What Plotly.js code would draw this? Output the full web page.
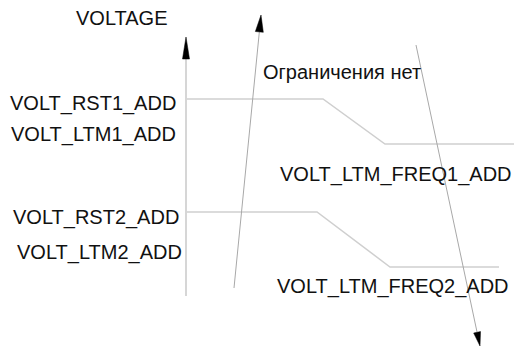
<!DOCTYPE html>
<html>
<head>
<meta charset="utf-8">
<script src="https://cdn.plot.ly/plotly-3.0.1.min.js"></script>
<style>
  html, body { margin: 0; padding: 0; background: #fff; }
  #chart { width: 514px; height: 347px; }
</style>
</head>
<body>
<div id="chart"></div>
<script>
// Schematic drawn in a pixel-like coordinate frame (x to the right, y downward)
const axisX = [186, 186];
const axisY = [296, 37];

const level1X = [186, 323, 385, 514];
const level1Y = [99, 99, 144, 144];

const level2X = [186, 317, 390, 499];
const level2Y = [212, 212, 267, 267];

const arrowUpX = [234, 261];
const arrowUpY = [288, 15];

const arrowDownX = [416, 480];
const arrowDownY = [45, 346];

const labelText = ['VOLTAGE', 'VOLT_RST1_ADD', 'VOLT_LTM1_ADD', 'VOLT_RST2_ADD', 'VOLT_LTM2_ADD',
                   'VOLT_LTM_FREQ1_ADD', 'VOLT_LTM_FREQ2_ADD', 'Ограничения нет'];
const labelX = [122, 178, 178, 181, 184, 514, 511, 261];
const labelY = [18, 103, 134, 217, 252, 174, 286, 72];
const labelAnchor = ['center', 'right', 'right', 'right', 'right', 'right', 'right', 'left'];

// build an arrow: gray shaft up to the head base, black filled head
function arrow(xs, ys, headLen, headHalf, shaftColor, shaftWidth) {
  let dx = xs[1] - xs[0], dy = ys[1] - ys[0];
  let len = Math.sqrt(dx * dx + dy * dy);
  let ux = dx / len, uy = dy / len;
  let bx = xs[1] - ux * headLen, by = ys[1] - uy * headLen;
  let px = -uy, py = ux;
  let shaft = {
    x: [xs[0], bx], y: [ys[0], by], mode: 'lines',
    line: { color: shaftColor, width: shaftWidth }, hoverinfo: 'skip'
  };
  let head = {
    x: [xs[1], bx + px * headHalf, bx - px * headHalf, xs[1]],
    y: [ys[1], by + py * headHalf, by - py * headHalf, ys[1]],
    mode: 'lines', fill: 'toself', fillcolor: '#000',
    line: { color: '#000', width: 0.5 }, hoverinfo: 'skip'
  };
  return [shaft, head];
}

let traces = [
  { x: level1X, y: level1Y, mode: 'lines', line: { color: '#cfcfcf', width: 1.5 }, hoverinfo: 'skip' },
  { x: level2X, y: level2Y, mode: 'lines', line: { color: '#cfcfcf', width: 1.5 }, hoverinfo: 'skip' }
];
traces = traces.concat(arrow(axisX, axisY, 22, 3.5, '#d6d6d6', 2));
traces = traces.concat(arrow(arrowUpX, arrowUpY, 17, 4, '#a8a8a8', 1));
traces = traces.concat(arrow(arrowDownX, arrowDownY, 14, 3.5, '#a8a8a8', 1));

let annotations = labelText.map((t, i) => ({
  x: labelX[i], y: labelY[i], xref: 'x', yref: 'y',
  text: t, showarrow: false, xanchor: labelAnchor[i], yanchor: 'middle',
  font: { family: 'Liberation Sans, Arial, sans-serif', size: 20, color: '#111' }
}));

let layout = {
  width: 514, height: 347,
  margin: { l: 0, r: 0, t: 0, b: 0 },
  paper_bgcolor: '#fff', plot_bgcolor: '#fff',
  showlegend: false,
  xaxis: { range: [0, 514], visible: false, fixedrange: true },
  yaxis: { range: [347, 0], visible: false, fixedrange: true },
  annotations: annotations
};

Plotly.newPlot('chart', traces, layout, { staticPlot: true });
</script>
</body>
</html>
